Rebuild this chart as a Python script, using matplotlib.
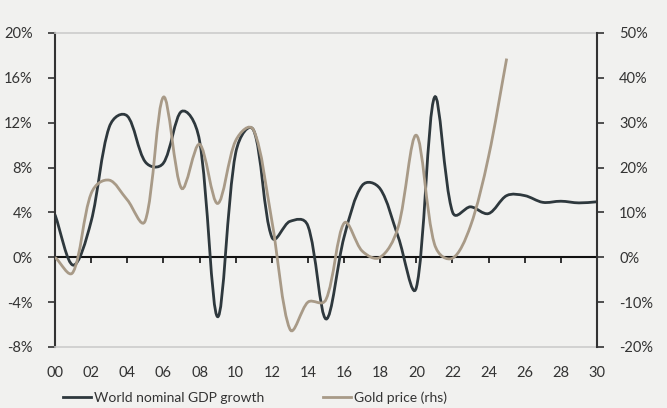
import numpy as np
import matplotlib.pyplot as plt
from matplotlib.path import Path
from matplotlib.patches import PathPatch
from matplotlib.lines import Line2D

# annual data, years since 2000
gdp_years = np.arange(0, 31)
gdp_growth = [3.8, -0.7, 3.2, 11.6, 12.6, 8.5, 8.4, 13.0, 10.4, -5.3,
              9.3, 11.3, 1.8, 3.2, 2.8, -5.5, 1.8, 6.4, 6.1, 1.8,
              -2.7, 14.25, 4.05, 4.5, 3.9, 5.5, 5.5, 4.9, 5.0, 4.85, 4.95]

gold_years = np.arange(0, 26)
gold_price = [0.0, -3.3, 14.2, 17.2, 12.8, 8.2, 35.7, 15.4, 25.2, 12.0,
              26.0, 28.3, 8.2, -16.0, -10.0, -9.4, 7.6, 1.4, 0.0, 6.8,
              27.2, 3.0, -0.2, 7.0, 22.5, 44.3]

x_ticks = np.arange(0, 31, 2)
x_labels = [f"{t:02d}" for t in x_ticks]
left_ticks = np.arange(-8, 21, 4)
right_ticks = np.arange(-20, 51, 10)

gdp_color = '#2e383d'
gold_color = '#a89a87'
bg = '#f1f1ef'
text_color = '#333333'


def smooth_path(axis, x, y, k=0.5):
    # Excel style smoothed line, worked out in screen space:
    # tangent along the neighbours, handle length weighted by the chord lengths
    trans = axis.transData
    p = trans.transform(np.column_stack([x, y]).astype(float))
    n = len(p)
    out_cp = np.zeros_like(p)
    in_cp = np.zeros_like(p)
    for i in range(n):
        prev = p[max(i - 1, 0)]
        nxt = p[min(i + 1, n - 1)]
        d = nxt - prev
        a = np.hypot(*(p[i] - prev)) ** k
        b = np.hypot(*(nxt - p[i])) ** k
        s = a + b if a + b > 0 else 1.0
        out_cp[i] = p[i] + d * (b / s) / 3
        in_cp[i] = p[i] - d * (a / s) / 3
    verts = [p[0]]
    codes = [Path.MOVETO]
    for i in range(n - 1):
        verts += [out_cp[i], in_cp[i + 1], p[i + 1]]
        codes += [Path.CURVE4] * 3
    verts = trans.inverted().transform(np.array(verts))
    return Path(verts, codes)


plt.rcParams['font.family'] = ['Lato', 'DejaVu Sans']
plt.rcParams['font.size'] = 10.5

fig = plt.figure(figsize=(6.67, 4.08), dpi=100, facecolor=bg)
ax = fig.add_axes([55 / 667, 61 / 408, 542 / 667, 314 / 408])
ax.set_facecolor(bg)
ax.set_xlim(0, 30)
ax.set_ylim(-8, 20)
ax2 = ax.twinx()
ax2.set_ylim(-20, 50)

# left axis
ax.set_yticks(left_ticks)
ax.set_yticklabels([f"{t}%" for t in left_ticks])
ax.tick_params(axis='y', direction='out', length=5, width=1.2, color=text_color,
               labelcolor=text_color, pad=11)
ax.spines['left'].set_color(text_color)
ax.spines['left'].set_linewidth(1.5)
ax.spines['right'].set_visible(False)
for s in ['top', 'bottom']:
    ax.spines[s].set_color('#cccccc')
    ax.spines[s].set_linewidth(1.2)

# x labels at the bottom, ticks on the zero line
ax.set_xticks(x_ticks)
ax.set_xticklabels(x_labels)
ax.tick_params(axis='x', length=0, pad=14, labelcolor=text_color)
zero_pos = (0 - ax.get_ylim()[0]) / (ax.get_ylim()[1] - ax.get_ylim()[0])
zax = ax.secondary_xaxis(zero_pos)
zax.set_xticks(x_ticks)
zax.set_xticklabels([])
zax.tick_params(axis='x', direction='out', length=4, width=1.2, color='#111111')
zax.spines['bottom'].set_color('#111111')
zax.spines['bottom'].set_linewidth(1.5)

# right axis
ax2.set_yticks(right_ticks)
ax2.set_yticklabels([f"{t}%" for t in right_ticks])
ax2.tick_params(axis='y', direction='out', length=5, width=1.2, color=text_color,
                labelcolor=text_color, pad=11)
ax2.spines['right'].set_color(text_color)
ax2.spines['right'].set_linewidth(1.5)
for s in ['top', 'bottom', 'left']:
    ax2.spines[s].set_visible(False)

ax.add_patch(PathPatch(smooth_path(ax, gdp_years, gdp_growth), fill=False,
                       edgecolor=gdp_color, linewidth=2.0, zorder=3))
ax2.add_patch(PathPatch(smooth_path(ax2, gold_years, gold_price), fill=False,
                        edgecolor=gold_color, linewidth=2.0, zorder=3))

handles = [Line2D([], [], color=gdp_color, linewidth=2.0),
           Line2D([], [], color=gold_color, linewidth=2.0)]
fig.legend(handles, ['World nominal GDP growth', 'Gold price (rhs)'],
           loc='center', bbox_to_anchor=(255 / 667, 10 / 408), ncol=2, frameon=False,
           handlelength=2.0, handletextpad=0.25, columnspacing=4.2,
           labelcolor=text_color, fontsize=10)

fig.savefig('out.png', dpi=100, facecolor=bg)
